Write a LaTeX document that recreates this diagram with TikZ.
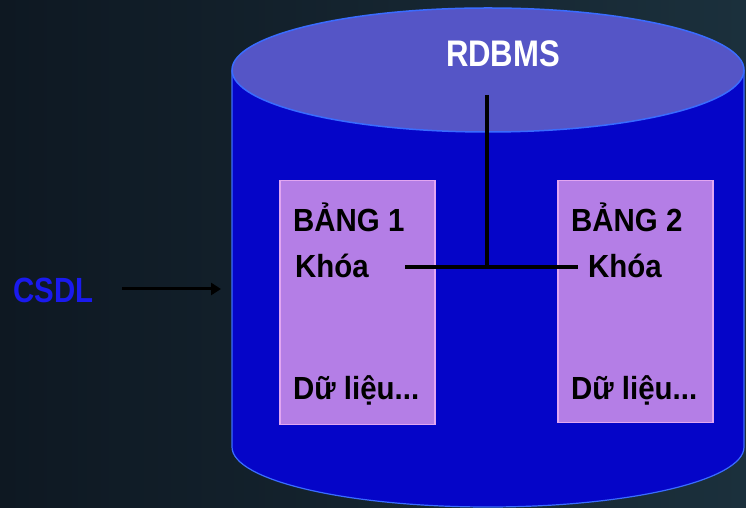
\documentclass[tikz,border=0pt]{standalone}
\usepackage{fontspec}
\setmainfont{Liberation Sans}
\newfontfamily\narrowfont{Liberation Sans}[FakeStretch=0.84]
\newfontfamily\boxfont{Liberation Sans}[FakeStretch=0.92]
\usetikzlibrary{arrows.meta}
\definecolor{bgdark}{HTML}{0E1822}
\definecolor{bglight}{HTML}{1B303C}
\definecolor{bodyblue}{HTML}{0505C8}
\definecolor{topblue}{HTML}{5555C6}
\definecolor{rimblue}{HTML}{3A6CFF}
\definecolor{boxpurple}{HTML}{B47EE6}
\definecolor{boxrim}{HTML}{E2A6F2}
\definecolor{csdlblue}{HTML}{1A1AEE}
\tikzset{
  txt/.style={anchor=base west, inner sep=0pt, font=\boxfont\fontsize{32}{34}\selectfont\bfseries, text=black},
  tablebox/.style={fill=boxpurple, draw=boxrim, line width=1.5pt},
  link/.style={draw=black, line width=3.2pt},
  arr/.style={draw=black, line width=3pt, -{Triangle[length=10pt,width=12pt]}},
}
\begin{document}
\begin{tikzpicture}[x=1pt,y=1pt]
\useasboundingbox (0,0) rectangle (746,508);
\shade[left color=bgdark, right color=bglight] (0,0) rectangle (746,508);
% cylinder body
\fill[bodyblue] (232,438) -- (232,61) arc[start angle=180, end angle=360, x radius=256, y radius=60] -- (744,438) -- cycle;
\draw[rimblue, line width=1.2pt] (232,438) -- (232,61) arc[start angle=180, end angle=360, x radius=256, y radius=60] -- (744,438);
% top ellipse
\draw[fill=topblue, draw=rimblue, line width=1.5pt] (488,438) ellipse[x radius=256, y radius=62];
% tables
\node[tablebox, minimum width=155pt, minimum height=244pt, anchor=north west, inner sep=0pt] (t1) at (279,328) {};
\node[tablebox, minimum width=155pt, minimum height=242pt, anchor=north west, inner sep=0pt] (t2) at (557,328) {};
\node[txt] (b1) at (293,276) {BẢNG 1};
\node[txt] (k1) at (295,230) {Khóa};
\node[txt] (d1) at (293,108) {Dữ liệu...};
\node[txt] (b2) at (571,276) {BẢNG 2};
\node[txt] (k2) at (588,230) {Khóa};
\node[txt] (d2) at (571,108) {Dữ liệu...};
% RDBMS
\node[anchor=base, inner sep=0pt, text=white, font=\narrowfont\fontsize{37}{40}\selectfont\bfseries] (rd) at (503,441) {RDBMS};
% CSDL
\node[anchor=base west, inner sep=0pt, text=csdlblue, font=\narrowfont\fontsize{35}{38}\selectfont\bfseries] (cs) at (13,205) {CSDL};
% connectors
\coordinate (jtop) at (487,413);
\coordinate (junc) at (487,241);
\coordinate (kl) at (405,241);
\coordinate (kr) at (578,241);
\draw[link] (jtop) -- (junc);
\draw[link] (kl) -- (kr);
\coordinate (as) at (122,219);
\coordinate (ae) at (221,219);
\draw[arr] (as) -- (ae);
\end{tikzpicture}
\end{document}
